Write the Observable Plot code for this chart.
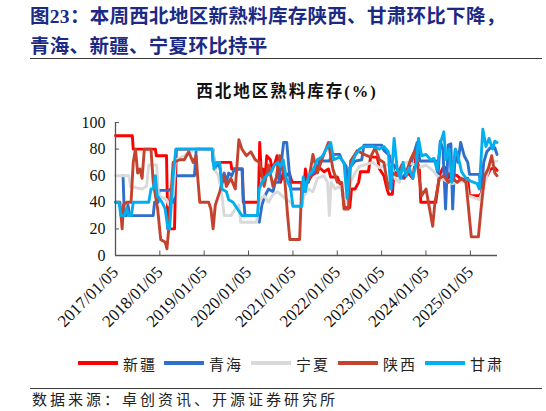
<!DOCTYPE html>
<html><head><meta charset="utf-8">
<script src="https://cdn.jsdelivr.net/npm/d3@7"></script>
<script src="https://cdn.jsdelivr.net/npm/@observablehq/plot@0.6"></script>
<style>
body{margin:0;background:#fff;}
#wrap{position:relative;width:546px;height:411px;overflow:hidden;background:#fff;font-family:"Liberation Serif","Noto Sans CJK SC",serif;}
#title{position:absolute;left:30px;top:2px;font-family:"Liberation Serif","Noto Sans CJK SC";font-weight:bold;font-size:19.5px;line-height:30px;color:#1c2a84;letter-spacing:0.3px;white-space:nowrap;}
.rule{position:absolute;left:30px;width:512px;height:0;border-top:1.5px solid #3a3a3a;}
#ctitle{position:absolute;left:0;width:574px;top:78px;text-align:center;font-weight:bold;font-size:16.5px;letter-spacing:2px;color:#111;}
#chart{position:absolute;left:0;top:100px;}
#legend{position:absolute;top:353px;left:0;height:20px;width:546px;}
.li{position:absolute;top:0;height:20px;display:flex;align-items:center;font-size:15px;letter-spacing:2px;color:#222;font-family:"Noto Sans CJK SC";}
.li span.sw{display:inline-block;width:40px;height:4px;margin-right:5px;}
#source{position:absolute;left:32px;top:391px;font-size:15px;line-height:16px;letter-spacing:3px;color:#222;font-family:"Noto Sans CJK SC";white-space:nowrap;}
</style></head>
<body><div id="wrap">
<div id="title">图23：本周西北地区新熟料库存陕西、甘肃环比下降，<br>青海、新疆、宁夏环比持平</div>
<div class="rule" style="top:58px"></div>
<div id="ctitle">西北地区熟料库存(%)</div>
<div id="chart"></div>
<div id="legend"></div>
<div class="rule" style="top:388px"></div>
<div id="source">数据来源：卓创资讯、开源证券研究所</div>
</div>
<script>
const seriesNames = ["新疆","青海","宁夏","陕西","甘肃"];
const seriesColors = ["#ff0000","#2f6fcc","#d9d9d9","#c4432f","#00aff0"];
const xTickLabels = ["2017-01-05","2018-01-05","2019-01-05","2020-01-05","2021-01-05","2022-01-05","2023-01-05","2024-01-05","2025-01-05"];
const yTicks = [0,20,40,60,80,100];
const xDomain = ["2017-01-05","2025-08-16"];

// [decimal year, value]
const xinjiang = [[2017.0,90],[2017.38,90],[2017.40,80],[2017.9,80],[2017.92,75],[2018.15,75],[2018.18,20],[2018.33,20],[2018.37,80],[2019.18,80],[2019.2,70],[2019.6,70],[2019.62,65],[2019.86,65],[2019.88,40],[2020.22,40],[2020.25,85],[2020.29,60],[2020.33,65],[2020.37,58],[2020.41,75],[2020.49,72],[2020.53,65],[2020.6,70],[2020.64,75],[2020.68,58],[2020.72,55],[2020.78,62],[2020.85,60],[2020.92,62],[2020.98,55],[2021.2,55],[2021.24,48],[2021.28,65],[2021.33,55],[2021.42,60],[2021.5,62],[2021.6,66],[2021.7,63],[2021.8,65],[2021.85,59],[2022.0,59],[2022.05,55],[2022.12,48],[2022.16,36],[2022.28,36],[2022.32,50],[2022.4,50],[2022.48,55],[2022.52,63],[2022.7,63],[2022.75,74],[2022.9,74],[2022.95,65],[2023.05,60],[2023.12,50],[2023.16,46],[2023.24,46],[2023.28,63],[2023.4,60],[2023.5,58],[2023.6,62],[2023.7,58],[2023.77,74],[2023.85,65],[2023.88,40],[2024.22,40],[2024.26,50],[2024.3,60],[2024.38,66],[2024.45,66],[2024.5,58],[2024.55,62],[2024.7,60],[2024.8,57],[2024.94,58],[2024.98,45],[2025.2,45],[2025.25,47],[2025.3,60],[2025.38,60],[2025.45,65],[2025.55,66],[2025.6,64]];
const qinghai = [[2017.17,60],[2017.2,30],[2017.25,30],[2017.28,38],[2017.32,30],[2017.85,30],[2017.88,40],[2017.96,40],[2017.98,49],[2018.2,49],[2018.25,50],[2018.3,40],[2018.34,60],[2018.78,60],[2018.82,80],[2019.2,80],[2019.24,65],[2019.3,70],[2019.36,65],[2019.4,55],[2019.45,62],[2019.5,55],[2019.55,62],[2019.62,60],[2019.68,65],[2019.85,65],[2019.88,45],[2019.92,30],[2020.2,30],[2020.24,25],[2020.3,38],[2020.37,45],[2020.45,50],[2020.55,48],[2020.6,55],[2020.68,55],[2020.72,65],[2020.79,85],[2020.86,85],[2020.95,50],[2021.2,50],[2021.3,55],[2021.4,60],[2021.55,65],[2021.6,71],[2021.82,71],[2021.88,76],[2022.05,76],[2022.1,72],[2022.2,67],[2022.24,50],[2022.28,66],[2022.4,71],[2022.55,72],[2022.6,83],[2023.0,83],[2023.05,79],[2023.18,75],[2023.22,50],[2023.28,68],[2023.35,65],[2023.45,58],[2023.55,62],[2023.65,68],[2023.8,85],[2023.86,71],[2024.22,71],[2024.27,60],[2024.32,86],[2024.38,80],[2024.44,35],[2024.5,83],[2024.56,84],[2024.6,35],[2024.66,80],[2024.72,70],[2024.78,85],[2024.86,75],[2024.94,70],[2024.98,61],[2025.2,61],[2025.25,50],[2025.3,70],[2025.37,78],[2025.45,81],[2025.55,81],[2025.6,76]];
const ningxia = [[2017.0,60],[2017.3,60],[2017.34,52],[2017.6,50],[2017.7,52],[2017.75,68],[2017.93,68],[2017.97,45],[2018.15,42],[2018.2,38],[2018.3,45],[2018.35,72],[2018.55,75],[2018.7,78],[2018.8,80],[2019.2,80],[2019.24,64],[2019.32,60],[2019.4,45],[2019.45,30],[2019.6,30],[2019.7,35],[2019.78,38],[2019.82,25],[2020.18,25],[2020.25,42],[2020.35,45],[2020.45,40],[2020.55,46],[2020.65,48],[2020.75,45],[2020.85,42],[2020.95,40],[2021.0,37],[2021.2,37],[2021.25,45],[2021.35,50],[2021.45,48],[2021.55,58],[2021.7,60],[2021.78,55],[2021.82,30],[2021.86,55],[2021.95,50],[2022.05,52],[2022.15,45],[2022.22,40],[2022.3,55],[2022.4,62],[2022.5,67],[2022.6,68],[2022.8,70],[2022.95,66],[2023.1,68],[2023.22,68],[2023.3,58],[2023.4,55],[2023.48,70],[2023.6,70],[2023.75,68],[2023.85,66],[2024.0,68],[2024.15,64],[2024.25,60],[2024.35,58],[2024.5,55],[2024.6,54],[2024.75,56],[2024.9,55],[2024.95,45],[2025.2,42],[2025.27,48],[2025.35,57],[2025.45,70],[2025.6,71]];
const shaanxi = [[2017.0,40],[2017.1,40],[2017.15,20],[2017.18,38],[2017.25,40],[2017.35,40],[2017.4,70],[2017.45,80],[2017.5,62],[2017.55,65],[2017.6,58],[2017.65,80],[2017.8,80],[2017.85,55],[2017.95,35],[2018.02,12],[2018.12,10],[2018.16,5],[2018.2,20],[2018.3,70],[2018.45,72],[2018.55,72],[2018.65,78],[2018.75,70],[2018.82,75],[2018.85,60],[2018.9,40],[2019.1,40],[2019.15,35],[2019.2,20],[2019.25,38],[2019.35,48],[2019.45,60],[2019.5,52],[2019.6,58],[2019.7,50],[2019.78,87],[2019.85,80],[2019.95,75],[2020.05,78],[2020.15,72],[2020.25,70],[2020.35,52],[2020.45,68],[2020.55,52],[2020.62,58],[2020.7,75],[2020.76,70],[2020.82,55],[2020.88,30],[2020.93,12],[2021.15,12],[2021.2,55],[2021.35,55],[2021.45,76],[2021.55,62],[2021.65,72],[2021.8,85],[2021.9,65],[2022.0,55],[2022.1,55],[2022.15,35],[2022.25,35],[2022.3,71],[2022.45,79],[2022.6,76],[2022.75,74],[2022.85,81],[2022.95,72],[2023.05,70],[2023.15,50],[2023.25,62],[2023.35,60],[2023.45,68],[2023.55,62],[2023.65,72],[2023.75,79],[2023.82,65],[2023.9,45],[2024.0,50],[2024.08,35],[2024.15,22],[2024.2,40],[2024.3,58],[2024.4,60],[2024.5,55],[2024.6,58],[2024.7,55],[2024.8,58],[2024.9,55],[2024.95,38],[2025.02,14],[2025.18,14],[2025.24,35],[2025.32,60],[2025.4,65],[2025.48,75],[2025.55,62],[2025.6,60]];
const gansu = [[2017.0,40],[2017.08,40],[2017.12,30],[2017.2,30],[2017.25,35],[2017.3,30],[2017.36,30],[2017.4,40],[2017.75,40],[2017.8,50],[2017.85,50],[2017.9,60],[2017.94,45],[2018.05,40],[2018.12,35],[2018.18,20],[2018.22,20],[2018.3,60],[2018.36,80],[2019.18,80],[2019.22,65],[2019.28,70],[2019.35,70],[2019.4,50],[2019.5,48],[2019.55,42],[2019.65,40],[2019.75,35],[2019.85,30],[2020.2,30],[2020.24,50],[2020.3,55],[2020.4,60],[2020.5,62],[2020.58,68],[2020.65,70],[2020.72,67],[2020.78,72],[2020.85,58],[2020.95,50],[2021.0,37],[2021.2,37],[2021.23,59],[2021.28,48],[2021.35,60],[2021.45,64],[2021.55,72],[2021.65,74],[2021.75,80],[2021.85,85],[2021.92,72],[2022.05,74],[2022.15,70],[2022.22,43],[2022.28,65],[2022.4,75],[2022.5,80],[2022.6,82],[2022.8,82],[2022.95,80],[2023.05,82],[2023.15,78],[2023.2,50],[2023.28,88],[2023.35,65],[2023.42,58],[2023.48,70],[2023.55,60],[2023.62,66],[2023.7,58],[2023.78,70],[2023.83,88],[2023.9,75],[2024.0,76],[2024.1,72],[2024.18,73],[2024.25,64],[2024.32,84],[2024.4,93],[2024.45,72],[2024.52,80],[2024.58,55],[2024.66,80],[2024.72,75],[2024.8,63],[2024.9,58],[2025.0,56],[2025.15,54],[2025.2,50],[2025.28,95],[2025.35,82],[2025.42,88],[2025.5,80],[2025.55,86],[2025.6,85]];

const seriesData = [xinjiang, qinghai, ningxia, shaanxi, gansu];
const t0 = Date.UTC(2017,0,5);
const toDate = y => new Date(t0 + (y - 2017) * 365.25 * 86400000);
const rows = [];
seriesData.forEach((s, i) => s.forEach(([t, v]) => rows.push({date: toDate(t), value: v, name: seriesNames[i]})));
const xTicks = xTickLabels.map(d => new Date(d + "T00:00:00Z"));
const dom = xDomain.map(d => new Date(d + "T00:00:00Z"));
const tickLenDays = 33 * 86400000;

const chart = Plot.plot({
  width: 546, height: 250,
  marginLeft: 115, marginRight: 49, marginTop: 22, marginBottom: 95,
  style: {fontFamily: "Liberation Serif", fontSize: "16px", color: "#111", background: "transparent"},
  x: {type: "utc", domain: dom},
  y: {domain: [0, 100]},
  color: {domain: seriesNames, range: seriesColors},
  marks: [
    Plot.axisY({ticks: yTicks, tickSize: 0, tickPadding: 10, fontSize: 16, label: null}),
    Plot.axisX({ticks: xTicks, tickFormat: d3.utcFormat("%Y/%m/%d"), tickRotate: -45, tickSize: 0, tickPadding: 14, fontSize: 17, label: null}),
    Plot.ruleX(xTicks, {y1: 0, y2: 3.4, stroke: "#555", strokeWidth: 1}),
    Plot.ruleY(yTicks, {x1: dom[0], x2: d => new Date(dom[0].getTime() + tickLenDays), stroke: "#555", strokeWidth: 1}),
    Plot.lineY(rows, {x: "date", y: "value", stroke: "name", strokeWidth: 2.9, strokeLinejoin: "round"}),
    Plot.ruleY([0], {stroke: "#555", strokeWidth: 1.3}),
    Plot.ruleX([dom[0]], {stroke: "#555", strokeWidth: 1.3})
  ]
});
document.getElementById("chart").appendChild(chart);

const legendX = [78, 164, 251, 338, 425];
const leg = document.getElementById("legend");
seriesNames.forEach((n, i) => {
  const d = document.createElement("div");
  d.className = "li";
  d.style.left = legendX[i] + "px";
  d.innerHTML = `<span class="sw" style="background:${seriesColors[i]}"></span>${n}`;
  leg.appendChild(d);
});
</script>
</body></html>
